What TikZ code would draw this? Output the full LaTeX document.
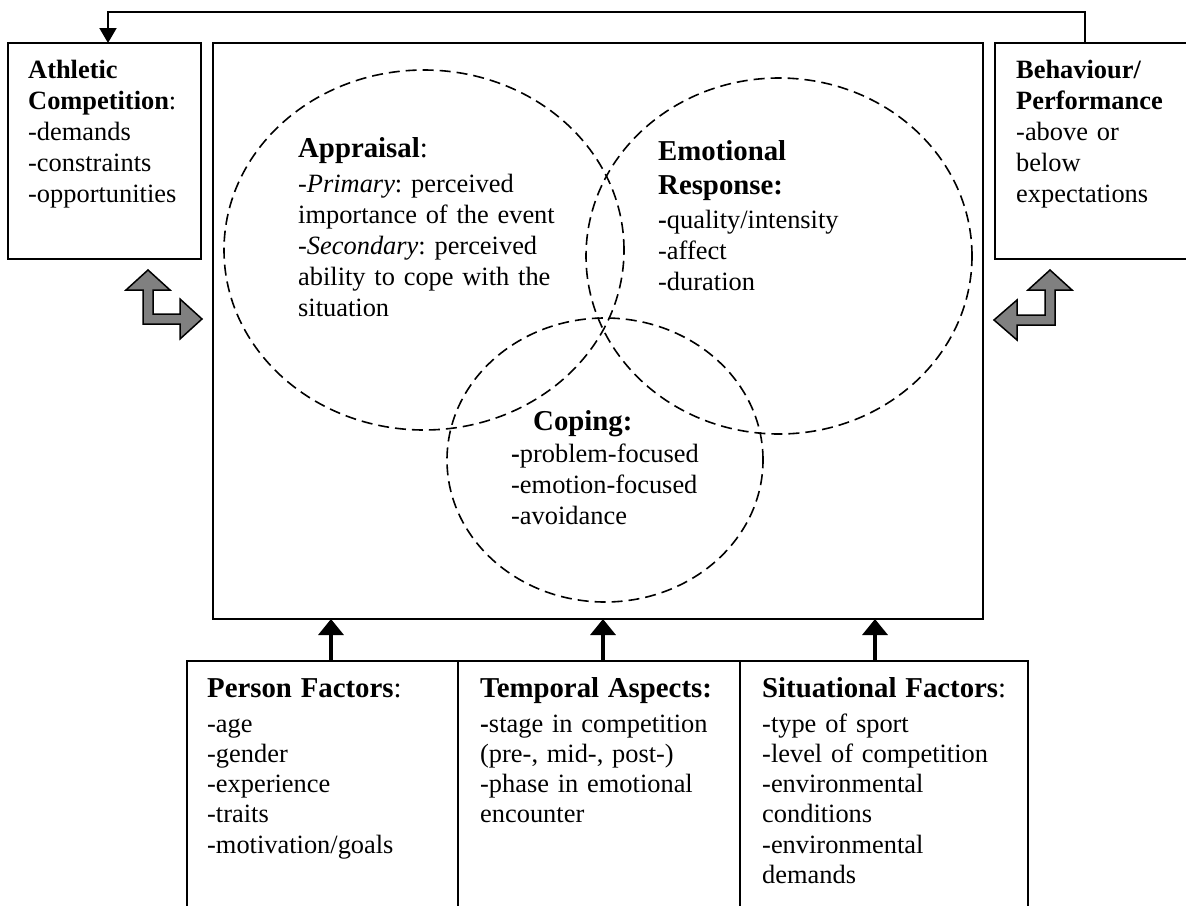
\documentclass[tikz,border=0pt]{standalone}
\usepackage{fontspec}
\setmainfont{Liberation Serif}
\usetikzlibrary{arrows.meta, positioning, shapes.geometric}

\newcommand{\hd}{\fontsize{28.8}{31}\selectfont}

\begin{document}
\begin{tikzpicture}[x=1pt,y=-1pt,font=\fontsize{26.4}{31}\selectfont\frenchspacing]
\useasboundingbox (0,0) rectangle (1186,905);
\clip (0,0) rectangle (1186,905);

\tikzset{box/.style={draw,line width=2pt,inner sep=0pt,outer sep=0pt,anchor=north west}}
\tikzset{txt/.style={anchor=base west,align=left,inner sep=0pt,text width=#1}}
\tikzset{ring/.style={draw,ellipse,inner sep=0pt,dash pattern=on 11pt off 6pt,line width=1.6pt}}
\tikzset{push/.style={-{Triangle[width=25pt,length=16pt]},line width=3.5pt}}
\tikzset{feedback/.style={-{Triangle[width=17pt,length=15pt]},line width=2pt}}
\tikzset{turn/.style={draw,fill=black!50,line width=1.5pt,line join=miter}}

% boxes
\node[box,minimum width=193pt,minimum height=216pt] (athl) at (8,43) {};
\node[box,minimum width=770pt,minimum height=576pt] (core) at (213,43) {};
\node[box,minimum width=200pt,minimum height=216pt] (beha) at (995,43) {};
\node[box,minimum width=271pt,minimum height=260pt] (pers) at (187,661) {};
\node[box,minimum width=282pt,minimum height=260pt,right=0pt of pers] (temp) {};
\node[box,minimum width=288pt,minimum height=260pt,right=0pt of temp] (situ) {};

% circles
\node[ring,minimum width=400pt,minimum height=360pt] (appr) at (424,250) {};
\node[ring,minimum width=386pt,minimum height=356pt] (emot) at (779,256) {};
\node[ring,minimum width=316pt,minimum height=284pt] (copi) at (605,460) {};

% texts
\node[txt=170pt] (athlT) at (28,78) {\textbf{Athletic}\\\textbf{Competition}:\\-demands\\-constraints\\-opportunities};
\node[txt=170pt] (behaT) at (1016,78) {\textbf{Behaviour/}\\\textbf{Performance}\\-above or\\below\\expectations};
\node[txt=300pt] (apprT) at (298,157) {{\hd\textbf{Appraisal}:}\\[4pt]-\textit{Primary}: perceived\\importance of the event\\-\textit{Secondary}: perceived\\ability to cope with the\\situation};
\node[txt=260pt] (emotT) at (658,160) {{\hd\textbf{Emotional}}\\[3pt]{\hd\textbf{Response:}}\\[3pt]\textbf{-}quality/intensity\\-affect\\-duration};
\node[txt=200pt,font=\hd] (copiH) at (533,430) {\textbf{Coping:}};
\node[txt=240pt] (copiT) at (511,462) {\textbf{-}problem-focused\\-emotion-focused\\-avoidance};

\tikzset{every node/.append style={font=\fontsize{26.4}{30.3}\selectfont\frenchspacing}}
\node[txt=240pt] (persT) at (207,697) {{\hd\textbf{Person Factors}:}\\[4.7pt]-age\\-gender\\-experience\\-traits\\-motivation/goals};
\node[txt=250pt] (tempT) at (480,697) {{\hd\textbf{Temporal Aspects:}}\\[4.7pt]\textbf{-}stage in competition\\(pre-, mid-, post-)\\-phase in emotional\\encounter};
\node[txt=260pt] (situT) at (762,697) {{\hd\textbf{Situational Factors}:}\\[4.7pt]-type of sport\\-level of competition\\-environmental\\conditions\\-environmental\\demands};

% arrows
\coordinate (fbR) at (1085,12);
\coordinate (fbL) at (108,12);
\draw[feedback] (beha.north -| fbR) -- (fbR) -- (fbL) -- (athl.north -| fbL);

\coordinate (pA) at (331,640);
\coordinate (pB) at (603,640);
\coordinate (pC) at (875,640);
\draw[push] (pers.north -| pA) -- (core.south -| pA);
\draw[push] (temp.north -| pB) -- (core.south -| pB);
\draw[push] (situ.north -| pC) -- (core.south -| pC);

\draw[turn] (148,270) -- (170,290) -- (153,290) -- (153,314) -- (180,314) -- (180,299) -- (202,319) -- (180,339) -- (180,324) -- (143,324) -- (143,290) -- (126,290) -- cycle;
\draw[turn] (1050,270) -- (1072,290) -- (1055,290) -- (1055,325) -- (1017,325) -- (1017,340) -- (994,320) -- (1017,300) -- (1017,315) -- (1045,315) -- (1045,290) -- (1028,290) -- cycle;
\end{tikzpicture}
\end{document}
